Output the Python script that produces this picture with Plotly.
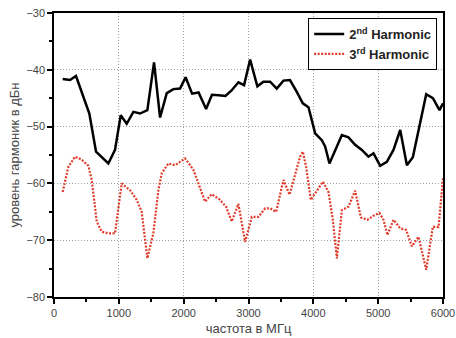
import plotly.graph_objects as go

freq2 = [134, 247, 339, 545, 648, 838, 941, 1029, 1122, 1224, 1327, 1440, 1543, 1636, 1739,
         1841, 1944, 2030, 2130, 2230, 2346, 2436, 2540, 2645, 2742, 2844, 2932, 3025, 3137,
         3230, 3333, 3436, 3539, 3640, 3745, 3838, 3925, 4028, 4131, 4182, 4249, 4336, 4440,
         4542, 4645, 4748, 4850, 4928, 5031, 5134, 5236, 5340, 5443, 5535, 5648, 5741, 5844,
         5946, 6000]
harm2 = [-41.6, -41.8, -41.1, -47.7, -54.4, -56.5, -54.1, -48.0, -49.5, -47.4, -47.7, -47.1,
         -38.7, -48.4, -44.1, -43.4, -43.3, -41.3, -44.2, -44.0, -46.9, -44.4, -44.5, -44.6,
         -43.6, -42.2, -42.7, -38.2, -42.9, -42.1, -42.1, -43.3, -41.9, -41.8, -43.9, -45.9,
         -46.6, -51.2, -52.4, -53.5, -56.5, -54.1, -51.5, -51.9, -53.2, -54.1, -55.3, -54.7,
         -56.9, -56.2, -54.1, -50.6, -56.8, -55.4, -49.4, -44.3, -45.0, -47.1, -45.9]

freq3 = [134, 221, 324, 427, 530, 582, 659, 736, 838, 941, 1044, 1173, 1276, 1353, 1440, 1532,
         1610, 1662, 1764, 1867, 1944, 2022, 2150, 2243, 2330, 2433, 2551, 2654, 2742, 2844,
         2948, 3051, 3153, 3256, 3333, 3426, 3539, 3632, 3719, 3796, 3838, 3889, 3961, 4054,
         4147, 4233, 4301, 4363, 4440, 4542, 4645, 4733, 4835, 4928, 5021, 5082, 5144, 5236,
         5340, 5432, 5520, 5622, 5741, 5844, 5931, 6000]
harm3 = [-61.5, -57.1, -55.3, -55.8, -56.9, -59.4, -66.7, -68.5, -68.8, -68.8, -60.0, -61.2,
         -62.9, -65.0, -73.2, -68.8, -61.2, -58.2, -56.5, -56.8, -56.2, -55.6, -57.6, -60.6,
         -63.2, -61.9, -62.8, -64.1, -66.7, -63.6, -70.3, -65.9, -65.9, -64.4, -64.4, -65.0,
         -59.4, -62.0, -58.2, -55.3, -54.4, -57.1, -62.9, -61.2, -59.7, -61.5, -66.4, -73.2,
         -64.7, -64.1, -61.3, -66.0, -66.4, -65.7, -65.2, -66.4, -69.1, -66.4, -67.9, -68.2,
         -71.1, -69.4, -75.2, -67.6, -67.7, -59.1]

x_ticks = [0, 1000, 2000, 3000, 4000, 5000, 6000]
y_ticks = [-80, -70, -60, -50, -40, -30]

x_title = "частота в МГц"
y_title = "уровень гармоник в дБн"
names = ["2<sup>nd</sup> Harmonic", "3<sup>rd</sup> Harmonic"]

FONT = "Liberation Sans, Arial"

fig = go.Figure()
fig.add_trace(go.Scatter(x=freq2, y=harm2, mode="lines", name=names[0],
                         line=dict(color="black", width=2.5)))
fig.add_trace(go.Scatter(x=freq3, y=harm3, mode="lines", name=names[1],
                         line=dict(color="#e03a2a", width=2.2, dash="2px,1.5px")))

axis_common = dict(
    automargin=False,
    showline=True, linecolor="black", linewidth=1.5, mirror=True,
    ticks="outside", ticklen=5, tickwidth=1.5, tickcolor="black",
    showgrid=True, gridcolor="#a0a0a0", griddash="1px,2px", gridwidth=1,
    zeroline=False,
    tickfont=dict(family=FONT, size=11, color="#444"),
    title_font=dict(family=FONT, size=13, color="#444"),
)

fig.update_xaxes(range=[0, 6000], tickvals=x_ticks, title_text=x_title, title_standoff=6,
                 minor=dict(dtick=500, ticks="outside", ticklen=3, tickcolor="black", showgrid=False),
                 **axis_common)
fig.update_yaxes(range=[-80, -30], tickvals=y_ticks, title_text=y_title, title_standoff=4,
                 minor=dict(dtick=5, ticks="outside", ticklen=3, tickcolor="black", showgrid=False),
                 **axis_common)

fig.update_layout(
    width=456, height=338,
    margin=dict(l=54, r=13, t=13, b=41),
    paper_bgcolor="white", plot_bgcolor="white",
    showlegend=True,
    legend=dict(x=0.985, y=0.982, xanchor="right", yanchor="top",
                bgcolor="white", bordercolor="black", borderwidth=1,
                font=dict(family=FONT, size=13, color="#222", weight="bold"),
                tracegroupgap=0, itemwidth=30),
)

fig.write_html("out.html")
